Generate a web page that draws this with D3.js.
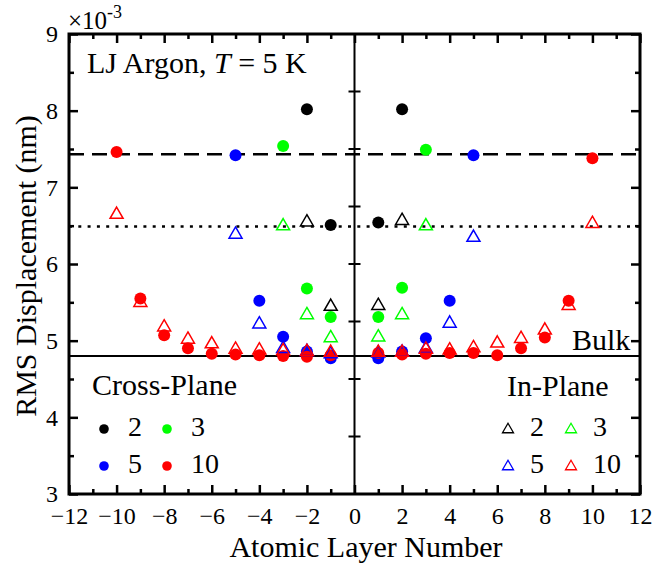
<!DOCTYPE html>
<html>
<head>
<meta charset="utf-8">
<script src="https://cdnjs.cloudflare.com/ajax/libs/d3/7.8.5/d3.min.js"></script>
</head>
<body style="margin:0;background:#fff;">
<div id="chart"></div>
<script>
// layer numbers, left side (-N..-1) then right side (1..N)
const layers2 = [-2, -1, 1, 2];
const layers3 = [-3, -2, -1, 1, 2, 3];
const layers5 = [-5, -4, -3, -2, -1, 1, 2, 3, 4, 5];
const layers10 = [-10, -9, -8, -7, -6, -5, -4, -3, -2, -1, 1, 2, 3, 4, 5, 6, 7, 8, 9, 10];

// cross-plane RMS displacement (x1e-3 nm)
const cross2 = [8.02, 6.51, 6.54, 8.02];
const cross3 = [7.54, 5.68, 5.31, 5.31, 5.69, 7.49];
const cross5 = [7.42, 5.52, 5.05, 4.86, 4.77, 4.77, 4.86, 5.03, 5.52, 7.42];
const cross10 = [7.46, 5.55, 5.07, 4.90, 4.83, 4.82, 4.81, 4.80, 4.79, 4.81,
                 4.84, 4.82, 4.83, 4.84, 4.84, 4.81, 4.90, 5.04, 5.52, 7.38];

// in-plane RMS displacement
const in2 = [6.57, 5.47, 5.48, 6.59];
const in3 = [6.52, 5.36, 5.06, 5.07, 5.36, 6.52];
const in5 = [6.41, 5.24, 4.92, 4.88, 4.85, 4.86, 4.87, 4.92, 5.25, 6.37];
const in10 = [6.67, 5.52, 5.20, 5.04, 4.98, 4.91, 4.90, 4.89, 4.88, 4.87,
              4.87, 4.87, 4.91, 4.90, 4.93, 4.99, 5.05, 5.16, 5.48, 6.55];

const sizeLabels = ['2', '3', '5', '10'];
const xTicks = [-12, -10, -8, -6, -4, -2, 0, 2, 4, 6, 8, 10, 12];
const yTicks = [3, 4, 5, 6, 7, 8, 9];

const dashedLevel = 7.43;
const dottedLevel = 6.49;
const bulkLevel = 4.80;

const colors = { '2': '#000000', '3': '#00ff00', '5': '#0000ff', '10': '#ff0000' };
const FONT = '"Liberation Serif", "Times New Roman", Times, serif';

const series = [
  { n: '2', layers: layers2, cross: cross2, inp: in2 },
  { n: '3', layers: layers3, cross: cross3, inp: in3 },
  { n: '5', layers: layers5, cross: cross5, inp: in5 },
  { n: '10', layers: layers10, cross: cross10, inp: in10 }
];

const W = 653, H = 571;
const margin = { top: 34, right: 13, bottom: 77, left: 69 };
const iw = W - margin.left - margin.right;
const ih = H - margin.top - margin.bottom;

const svg = d3.select('#chart').append('svg')
  .attr('width', W)
  .attr('height', H)
  .style('font-family', FONT);

const g = svg.append('g')
  .attr('transform', 'translate(' + margin.left + ',' + margin.top + ')');

const x = d3.scaleLinear().domain([-12, 12]).range([0, iw]);
const y = d3.scaleLinear().domain([3, 9]).range([ih, 0]);
// centre axis has its own 8-division scale
const yc = d3.scaleLinear().domain([0, 8]).range([ih, 0]);

function triPath(s) {
  const h = s * 0.866;
  return 'M0,' + (-h / 2) + 'L' + (s / 2) + ',' + (h / 2) + 'L' + (-s / 2) + ',' + (h / 2) + 'Z';
}

function txt(sel, size) {
  return sel.style('font-family', FONT).style('font-size', size + 'px').attr('fill', '#000');
}

// reference lines
g.append('line')
  .attr('x1', 0).attr('x2', iw)
  .attr('y1', y(dashedLevel)).attr('y2', y(dashedLevel))
  .attr('stroke', '#000').attr('stroke-width', 2.5)
  .attr('stroke-dasharray', '15,8');
g.append('line')
  .attr('x1', 0).attr('x2', iw)
  .attr('y1', y(dottedLevel)).attr('y2', y(dottedLevel))
  .attr('stroke', '#000').attr('stroke-width', 2.5)
  .attr('stroke-dasharray', '3,6.3');
g.append('line')
  .attr('x1', 0).attr('x2', iw)
  .attr('y1', y(bulkLevel)).attr('y2', y(bulkLevel))
  .attr('stroke', '#000').attr('stroke-width', 2);

// centre vertical axis
g.append('line')
  .attr('x1', x(0)).attr('x2', x(0))
  .attr('y1', 0).attr('y2', ih)
  .attr('stroke', '#000').attr('stroke-width', 2);
g.append('g').selectAll('line')
  .data(d3.range(1, 8))
  .enter().append('line')
    .attr('x1', x(0) - 6).attr('x2', x(0) + 6)
    .attr('y1', function(d) { return yc(d); })
    .attr('y2', function(d) { return yc(d); })
    .attr('stroke', '#000').attr('stroke-width', 2);

// axes (ticks pointing inward)
function styleAxis(sel) {
  sel.attr('font-family', null).attr('font-size', null);
  sel.select('.domain').remove();
  sel.selectAll('line').attr('stroke', '#000').attr('stroke-width', 2.5);
  txt(sel.selectAll('text'), 24);
}

const xMinor = d3.range(-11, 12, 2);
const yMinor = [3.5, 4.5, 5.5, 6.5, 7.5, 8.5];
const fmt = d3.format('d');

g.append('g').attr('transform', 'translate(0,' + ih + ')')
  .call(d3.axisBottom(x).tickValues(xTicks).tickFormat(fmt).tickSize(-9).tickPadding(13))
  .call(styleAxis);
g.append('g').attr('transform', 'translate(0,' + ih + ')')
  .call(d3.axisBottom(x).tickValues(xMinor).tickSize(-5).tickFormat(''))
  .call(styleAxis);
g.append('g')
  .call(d3.axisTop(x).tickValues(xTicks).tickSize(-9).tickFormat(''))
  .call(styleAxis);
g.append('g')
  .call(d3.axisTop(x).tickValues(xMinor).tickSize(-5).tickFormat(''))
  .call(styleAxis);
g.append('g')
  .call(d3.axisLeft(y).tickValues(yTicks).tickFormat(fmt).tickSize(-9).tickPadding(11))
  .call(styleAxis);
g.append('g')
  .call(d3.axisLeft(y).tickValues(yMinor).tickSize(-5).tickFormat(''))
  .call(styleAxis);
g.append('g').attr('transform', 'translate(' + iw + ',0)')
  .call(d3.axisRight(y).tickValues(yTicks).tickSize(-9).tickFormat(''))
  .call(styleAxis);
g.append('g').attr('transform', 'translate(' + iw + ',0)')
  .call(d3.axisRight(y).tickValues(yMinor).tickSize(-5).tickFormat(''))
  .call(styleAxis);

// frame
g.append('rect')
  .attr('width', iw).attr('height', ih)
  .attr('fill', 'none')
  .attr('stroke', '#000').attr('stroke-width', 3);

// cross-plane circles
series.forEach(function(s) {
  g.append('g').selectAll('circle')
    .data(s.layers.map(function(l, i) { return { layer: l, v: s.cross[i] }; }))
    .enter().append('circle')
      .attr('cx', function(d) { return x(d.layer); })
      .attr('cy', function(d) { return y(d.v); })
      .attr('r', 6)
      .attr('fill', colors[s.n]);
});

// in-plane triangles
series.forEach(function(s) {
  g.append('g').selectAll('path')
    .data(s.layers.map(function(l, i) { return { layer: l, v: s.inp[i] }; }))
    .enter().append('path')
      .attr('d', triPath(13))
      .attr('transform', function(d) { return 'translate(' + x(d.layer) + ',' + y(d.v) + ')'; })
      .attr('fill', 'none')
      .attr('stroke', colors[s.n])
      .attr('stroke-width', 1.5);
});

// annotations
const topNote = txt(svg.append('text'), 30)
  .attr('x', 87).attr('y', 73);
topNote.append('tspan').text('LJ Argon, ');
topNote.append('tspan').style('font-style', 'italic').text('T');
topNote.append('tspan').text(' = 5 K');

const mult = txt(svg.append('text'), 25)
  .attr('x', 68).attr('y', 29);
txt(mult.append('tspan'), 25).text('\u00d710');
txt(mult.append('tspan'), 18).attr('dy', -11).text('-3');

txt(svg.append('text'), 30)
  .attr('x', 572).attr('y', 350)
  .text('Bulk');

// axis titles
txt(svg.append('text'), 30)
  .attr('x', 366).attr('y', 557)
  .attr('text-anchor', 'middle')
  .text('Atomic Layer Number');
txt(svg.append('text'), 30)
  .attr('transform', 'translate(36,266) rotate(-90)')
  .attr('text-anchor', 'middle')
  .text('RMS Displacement (nm)');

// legends
const legendPos = [
  { dx: 0, dy: 0 }, { dx: 63, dy: 0 },
  { dx: 0, dy: 37 }, { dx: 63, dy: 37 }
];

txt(svg.append('text'), 30).attr('x', 92).attr('y', 395).text('Cross-Plane');
const crossLeg = svg.append('g').attr('transform', 'translate(104,429)');
sizeLabels.forEach(function(n, i) {
  const p = legendPos[i];
  crossLeg.append('circle')
    .attr('cx', p.dx).attr('cy', p.dy).attr('r', 4.8)
    .attr('fill', colors[n]);
  txt(crossLeg.append('text'), 28)
    .attr('x', p.dx + 24).attr('y', p.dy + 7)
    .text(n);
});

txt(svg.append('text'), 30).attr('x', 507).attr('y', 396).text('In-Plane');
const inLeg = svg.append('g').attr('transform', 'translate(508,428)');
sizeLabels.forEach(function(n, i) {
  const p = legendPos[i];
  inLeg.append('path')
    .attr('d', triPath(11))
    .attr('transform', 'translate(' + p.dx + ',' + p.dy + ')')
    .attr('fill', 'none')
    .attr('stroke', colors[n]).attr('stroke-width', 1.3);
  txt(inLeg.append('text'), 28)
    .attr('x', p.dx + 22).attr('y', p.dy + 8)
    .text(n);
});
</script>
</body>
</html>
